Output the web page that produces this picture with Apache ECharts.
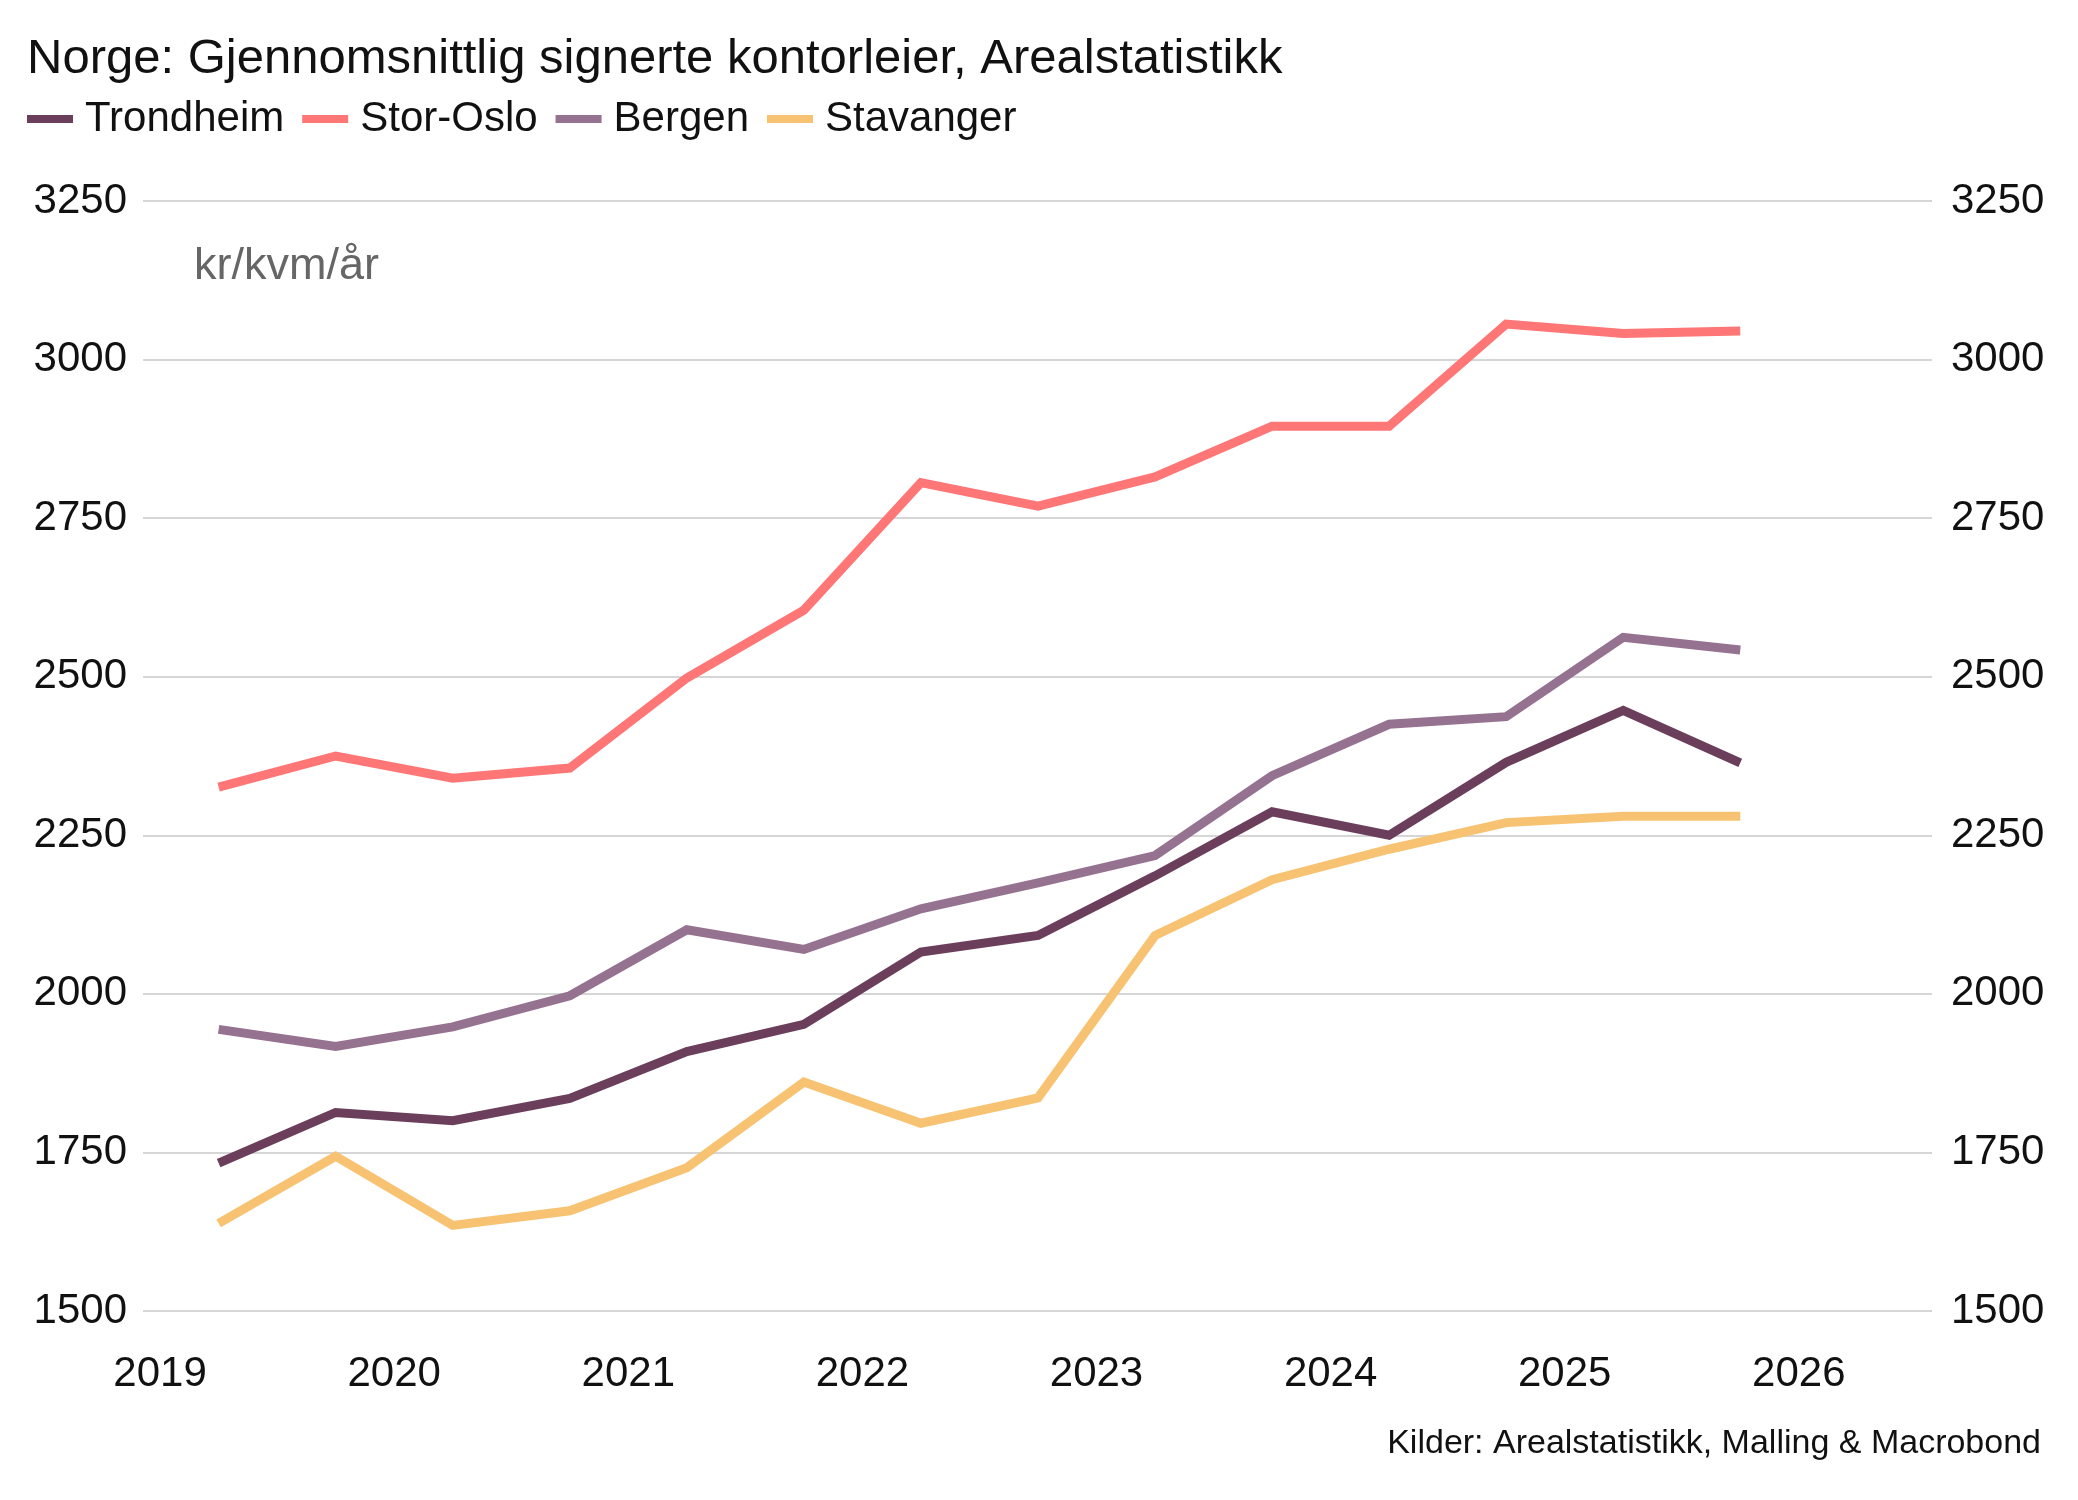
<!DOCTYPE html>
<html>
<head>
<meta charset="utf-8">
<script src="https://cdn.jsdelivr.net/npm/echarts@6/dist/echarts.min.js"></script>
<style>
  html, body { margin: 0; padding: 0; background: #fff; }
  #chart { width: 2078px; height: 1500px; }
</style>
</head>
<body>
<div id="chart"></div>
<script>
// halvårsdata, plassert midt i hvert halvår
const periods = [2019.25, 2019.75, 2020.25, 2020.75, 2021.25, 2021.75, 2022.25,
  2022.75, 2023.25, 2023.75, 2024.25, 2024.75, 2025.25, 2025.75]
const trondheim = [1733, 1813, 1800, 1835, 1909, 1952, 2066, 2092, 2186, 2287, 2250, 2365, 2447, 2364]
const storOslo = [2326, 2375, 2340, 2356, 2498, 2605, 2806, 2769, 2815, 2895, 2895, 3056, 3041, 3045]
const bergen = [1944, 1917, 1948, 1997, 2101, 2070, 2134, 2175, 2218, 2344, 2425, 2437, 2562, 2542]
const stavanger = [1638, 1744, 1635, 1658, 1726, 1861, 1796, 1836, 2092, 2180, 2228, 2270, 2280, 2280]
const yearTicks = [2019, 2020, 2021, 2022, 2023, 2024, 2025, 2026]
const seriesNames = ['Trondheim', 'Stor-Oslo', 'Bergen', 'Stavanger']

const FONT = '"Liberation Sans", Arial, sans-serif'
const colors = { Trondheim: '#6b3f5b', 'Stor-Oslo': '#ff7676', Bergen: '#967291', Stavanger: '#f7c372' }
const values = { Trondheim: trondheim, 'Stor-Oslo': storOslo, Bergen: bergen, Stavanger: stavanger }

function pairs(arr) { return arr.map((v, i) => [periods[i], v]) }

const chart = echarts.init(document.getElementById('chart'), null, { renderer: 'canvas' })

const yAxisBase = {
  type: 'value', min: 1500, max: 3250, interval: 250,
  axisLine: { show: false }, axisTick: { show: false },
  axisLabel: { color: '#111', fontSize: 42, fontFamily: FONT, formatter: v => String(v) }
}

chart.setOption({
  backgroundColor: '#fff',
  animation: false,
  grid: { left: 143, right: 146, top: 201, bottom: 189, containLabel: false },
  legend: {
    data: seriesNames,
    left: 22, top: 93,
    icon: 'rect', itemWidth: 46, itemHeight: 8, itemGap: 18,
    textStyle: { color: '#111', fontSize: 42, fontFamily: FONT, padding: [0, 0, 0, 7] }
  },
  xAxis: {
    type: 'value', min: 2018.927, max: 2026.569,
    axisLine: { show: false }, axisTick: { show: false },
    splitLine: { show: false },
    axisLabel: {
      customValues: yearTicks, margin: 42,
      color: '#111', fontSize: 42, fontFamily: FONT,
      formatter: v => String(Math.round(v))
    }
  },
  yAxis: [
    Object.assign({}, yAxisBase, {
      position: 'left',
      axisLabel: Object.assign({}, yAxisBase.axisLabel, { margin: 16 }),
      splitLine: { show: true, lineStyle: { color: '#c8c8c8', width: 1.5 } }
    }),
    Object.assign({}, yAxisBase, {
      position: 'right',
      axisLabel: Object.assign({}, yAxisBase.axisLabel, { margin: 19 }),
      splitLine: { show: false }
    })
  ],
  // tegnes i omvendt rekkefølge så Trondheim ligger øverst
  series: seriesNames.slice().reverse().map(name => ({
    name, type: 'line',
    data: pairs(values[name]),
    showSymbol: false, symbol: 'none',
    lineStyle: { color: colors[name], width: 9, cap: 'butt', join: 'miter' },
    itemStyle: { color: colors[name] }
  })),
  graphic: [
    {
      type: 'text', left: 27, top: 35,
      style: { text: 'Norge: Gjennomsnittlig signerte kontorleier, Arealstatistikk', fill: '#111', font: '49px ' + FONT }
    },
    {
      type: 'text', left: 194, top: 244,
      style: { text: 'kr/kvm/år', fill: '#666', font: '45px ' + FONT }
    },
    {
      type: 'text', right: 37, top: 1427,
      style: { text: 'Kilder: Arealstatistikk, Malling & Macrobond', fill: '#111', font: '34px ' + FONT }
    }
  ]
})
</script>
</body>
</html>
